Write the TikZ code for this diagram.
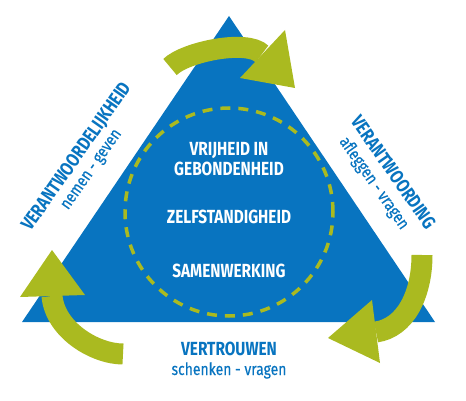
\documentclass[tikz,border=0pt]{standalone}
\usepackage{fontspec}
\usepackage{xcolor}
\usepackage{tikz}
\newfontfamily\condfont[FakeStretch=0.81]{Fira Sans}
\newfontfamily\condlow[FakeStretch=0.82,FakeBold=0.4]{Fira Sans}
\definecolor{triblue}{RGB}{8,116,192}
\definecolor{arrowgreen}{RGB}{170,186,32}

\begin{document}
\begin{tikzpicture}[x=1pt,y=1pt,
  caps/.style={font=\condfont\bfseries\fontsize{19}{21}\selectfont, anchor=base, inner sep=0pt},
  lower/.style={font=\condlow\fontsize{17}{19}\selectfont, anchor=base, inner sep=0pt},
  band/.style={draw=arrowgreen, line width=21pt},
  head/.style={fill=arrowgreen}]

  \useasboundingbox (0,0) rectangle (466,400);

  % blue triangle and dashed circle
  \fill[triblue] (22,78) coordinate (left) -- (435,78) coordinate (right)
    -- (229,384) coordinate (apex) -- cycle;
  \draw[arrowgreen, line width=3.5pt, dash pattern=on 10pt off 8pt] (229,188) circle (104);

  % texts inside the triangle
  \node[caps, text=white] (vrij)  at (229,245) {VRIJHEID IN};
  \node[caps, text=white] (gebon) at (229,225) {GEBONDENHEID};
  \node[caps, text=white] (zelf)  at (229,177) {ZELFSTANDIGHEID};
  \node[caps, text=white] (samen) at (229,123) {SAMENWERKING};

  % texts along the sides
  \node[caps, text=triblue, rotate=55]  (verlijk)  at (81,240)  {VERANTWOORDELIJKHEID};
  \node[lower, text=triblue, rotate=55] (nemen)    at (95,228)  {nemen - geven};
  \node[caps, text=triblue, rotate=-55] (verwoord) at (388,224) {VERANTWOORDING};
  \node[lower, text=triblue, rotate=-55] (afleg)   at (370,214) {afleggen - vragen};
  \node[caps, text=triblue]  (vertrouw) at (229,45) {VERTROUWEN};
  \node[lower, text=triblue] (schenk)   at (229,25) {schenken - vragen};

  % green arrows round the triangle
  \draw[band] (170,333) .. controls (185,348) and (247,361) .. (262,346);
  \fill[head] (285,370) -- (295,312) -- (240,322) -- cycle;

  \draw[band] (422,145) .. controls (422,105) and (405,72) .. (376,68);
  \fill[head] (372,100) -- (328,62) -- (380,37) -- cycle;

  \draw[band] (123,46) .. controls (95,46) and (55,70) .. (52,104);
  \fill[head] (20,103) -- (52,150) -- (85,105) -- cycle;

\end{tikzpicture}
\end{document}
